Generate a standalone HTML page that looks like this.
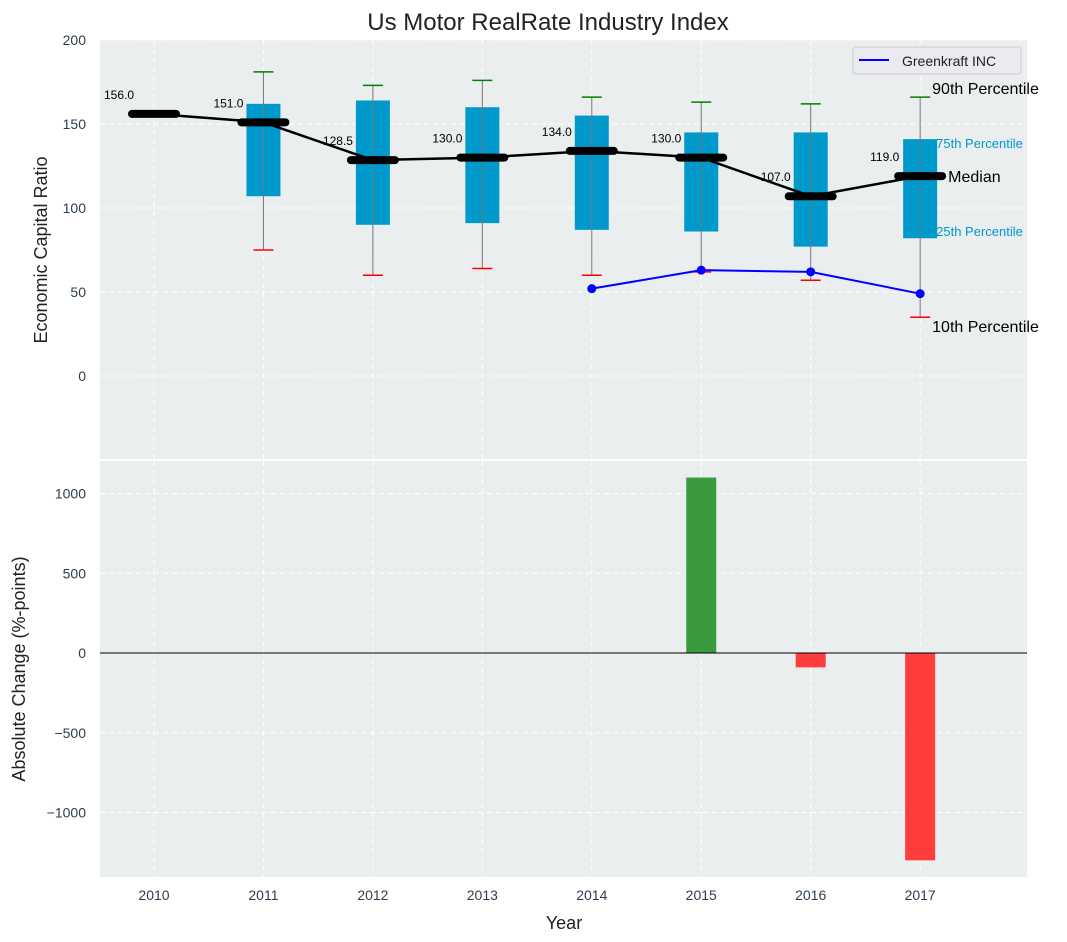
<!DOCTYPE html>
<html><head><meta charset="utf-8"><style>
body{margin:0;background:#fff;font-family:"Liberation Sans","DejaVu Sans",sans-serif}
svg{display:block}
</style></head><body>
<svg id="chart" width="1067" height="942" xmlns="http://www.w3.org/2000/svg"></svg>
<script>
const years=[2010,2011,2012,2013,2014,2015,2016,2017];
const medians=[156,151,128.5,130,134,130,107,119];
const q1=[null,107,90,91,87,86,77,82];
const q3=[null,162,164,160,155,145,145,141];
const p10=[null,75,60,64,60,62,57,35];
const p90=[null,181,173,176,166,163,162,166];
const gkYears=[2014,2015,2016,2017];
const gkValues=[52,63,62,49];
const changeYears=[2015,2016,2017];
const changeValues=[1100,-90,-1300];
const topTicks=[0,50,100,150,200];
const botTicks=[-1000,-500,0,500,1000];

const NS="http://www.w3.org/2000/svg";
const svg=document.getElementById('chart');
function mk(tag,attrs,parent){const e=document.createElementNS(NS,tag);for(const k in attrs)e.setAttribute(k,attrs[k]);(parent||svg).appendChild(e);return e;}
const L=100,R=1027;
const xs=y=>154+(y-2010)*109.45;
const yt=v=>376-v*1.68;
const yb=v=>653-v*0.1595;

let e=mk('rect',{x:L,y:40,width:R-L,height:419,fill:'#eaeeef'});


e=mk('rect',{x:L,y:461,width:R-L,height:416,fill:'#eaeeef'});



years.forEach(y=>{mk('line',{x1:xs(y),x2:xs(y),y1:40,y2:459,stroke:'#fff','stroke-dasharray':'5,4','stroke-width':1});mk('line',{x1:xs(y),x2:xs(y),y1:461,y2:877,stroke:'#fff','stroke-dasharray':'5,4','stroke-width':1});});
topTicks.forEach(t=>{mk('line',{x1:L,x2:R,y1:yt(t),y2:yt(t),stroke:'#fff','stroke-dasharray':'5,4'});
 e=mk('text',{x:86,y:yt(t)+5,'text-anchor':'end','font-size':14,fill:'#2e3e50'});e.textContent=t;
 
 });
botTicks.forEach(t=>{mk('line',{x1:L,x2:R,y1:yb(t),y2:yb(t),stroke:'#fff','stroke-dasharray':'5,4'});
 e=mk('text',{x:86,y:yb(t)+5,'text-anchor':'end','font-size':14,fill:'#2e3e50'});e.textContent=(t<0?'\u2212'+(-t):t);
 
 });
years.forEach(y=>{e=mk('text',{x:xs(y),y:900,'text-anchor':'middle','font-size':14,fill:'#2e3e50'});e.textContent=y;
 
 });

years.forEach((y,i)=>{
 if(q1[i]==null)return;
 const x=xs(y);
 e=mk('rect',{x:x-17,y:yt(q3[i]),width:34,height:yt(q1[i])-yt(q3[i]),fill:'#0099cc'});
 
 
 mk('line',{x1:x,x2:x,y1:yt(p90[i]),y2:yt(p10[i]),stroke:'#777','stroke-width':1});
 mk('line',{x1:x-10,x2:x+10,y1:yt(p90[i]),y2:yt(p90[i]),stroke:'green','stroke-width':1.5});
 mk('line',{x1:x-10,x2:x+10,y1:yt(p10[i]),y2:yt(p10[i]),stroke:'red','stroke-width':1.5});
});
e=mk('polyline',{points:years.map((y,i)=>xs(y)+','+yt(medians[i])).join(' '),fill:'none',stroke:'#000','stroke-width':2.5});


years.forEach((y,i)=>{const x=xs(y);
 e=mk('line',{x1:x-22,x2:x+22,y1:yt(medians[i]),y2:yt(medians[i]),stroke:'#000','stroke-width':8,'stroke-linecap':'round'});
 
 
 e=mk('text',{x:x-50,y:yt(medians[i])-15,'font-size':12,fill:'#000'});e.textContent=medians[i].toFixed(1);
 
 
});
e=mk('polyline',{points:gkYears.map((y,i)=>xs(y)+','+yt(gkValues[i])).join(' '),fill:'none',stroke:'#0000ff','stroke-width':2});


gkYears.forEach((y,i)=>{e=mk('circle',{cx:xs(y),cy:yt(gkValues[i]),r:4.5,fill:'#0000ff'});
 
 });

const x17=xs(2017);
[[x17+12,yt(p90[7])-3,'90th Percentile',16,'#000'],[x17+16,yt(q3[7])+9,'75th Percentile',13,'#0099cc'],[x17+28,yt(medians[7])+6,'Median',16,'#000'],[x17+16,yt(q1[7])-2,'25th Percentile',13,'#0099cc'],[x17+12,yt(p10[7])+15,'10th Percentile',16,'#000']].forEach(a=>{
 e=mk('text',{x:a[0],y:a[1],'font-size':a[3],fill:a[4]});e.textContent=a[2];
 
 });

const lg=mk('g',{});


mk('rect',{x:853,y:47,width:168,height:27,rx:3,fill:'#eaeaf0',stroke:'#ccc'},lg);
mk('line',{x1:859,x2:889,y1:60,y2:60,stroke:'#0000ff','stroke-width':2},lg);
e=mk('text',{x:902,y:66,'font-size':14,fill:'#222'},lg);e.textContent='Greenkraft INC';

changeYears.forEach((y,i)=>{const v=changeValues[i];
 e=mk('rect',{x:xs(y)-15,y:Math.min(yb(v),yb(0)),width:30,height:Math.abs(yb(v)-yb(0)),fill:v>=0?'#3a9a3e':'#ff3d3d'});
 
 });
mk('line',{x1:L,x2:R,y1:yb(0),y2:yb(0),stroke:'#000','stroke-width':1});

e=mk('text',{x:548,y:30,'text-anchor':'middle','font-size':24,fill:'#222'});e.textContent='Us Motor RealRate Industry Index';


e=mk('text',{x:0,y:0,'text-anchor':'middle','font-size':18,fill:'#222',transform:'translate(47,250) rotate(-90)'});e.textContent='Economic Capital Ratio';


e=mk('text',{x:0,y:0,'text-anchor':'middle','font-size':18,fill:'#222',transform:'translate(25,669) rotate(-90)'});e.textContent='Absolute Change (%-points)';


e=mk('text',{x:564,y:929,'text-anchor':'middle','font-size':18,fill:'#222'});e.textContent='Year';


</script>
</body></html>
